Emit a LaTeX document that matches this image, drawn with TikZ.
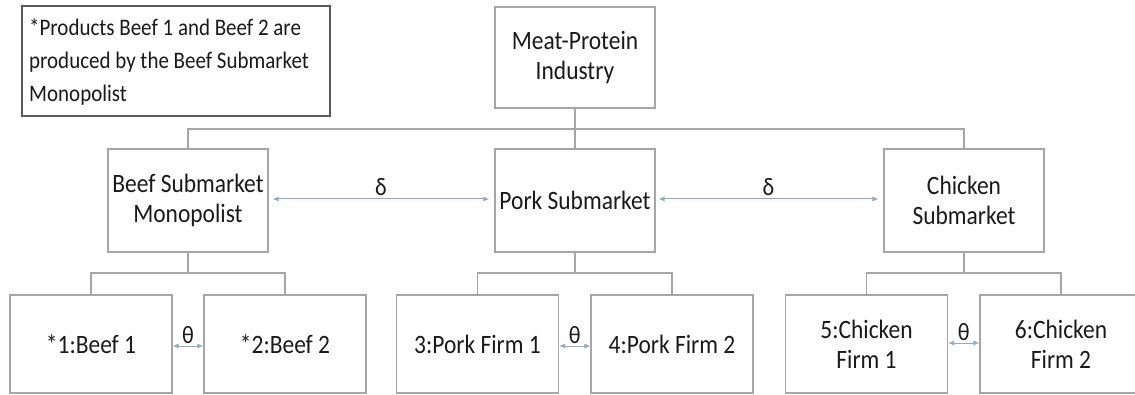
\documentclass[tikz,border=0pt]{standalone}
\usepackage{fontspec}
\setmainfont{Carlito}[FakeStretch=0.885]
\usetikzlibrary{arrows.meta}
\definecolor{boxline}{HTML}{A6A6A6}
\definecolor{noteline}{HTML}{595959}
\definecolor{arrowc}{HTML}{8FA9C8}
\definecolor{txt}{HTML}{1A1A1A}
\tikzset{
  orgbox/.style={draw=boxline, line width=1.1pt, fill=white, minimum width=160pt, minimum height=102pt, align=center, inner sep=0pt, font=\fontsize{26.5}{30}\selectfont, text=txt},
  firmbox/.style={orgbox, minimum width=162pt, minimum height=98pt},
  notebox/.style={draw=noteline, line width=1.6pt, minimum width=308pt, minimum height=110pt, inner sep=0pt},
  notetxt/.style={align=left, inner sep=0pt, font=\fontsize{23.7}{33}\selectfont, text=txt},
  tree/.style={draw=boxline, line width=1.1pt},
  rel/.style={draw=arrowc, line width=1pt, {Latex[length=6pt,width=5pt]}-{Latex[length=6pt,width=5pt]}},
  rellabel/.style={font=\fontsize{25}{28}\selectfont, text=txt, inner sep=0pt}
}
\begin{document}
\begin{tikzpicture}[x=1pt,y=-1pt]
\useasboundingbox[fill=white] (0,0) rectangle (1135,395);
\clip (0,0) rectangle (1135,395);
% note
\node[notebox] (note) at (176,61) {};
\node[notetxt, anchor=north west] (notetext) at (29,18) {*Products Beef 1 and Beef 2 are\\produced by the Beef Submarket\\Monopolist};
% top
\node[orgbox, minimum height=101pt] (meat) at (575,57.5) {Meat-Protein\\Industry};
% submarkets
\node[orgbox, minimum height=103pt] (beef) at (188,200.5) {Beef Submarket\\Monopolist};
\node[orgbox, minimum height=103pt] (pork) at (575,200.5) {Pork Submarket};
\node[orgbox, minimum height=103pt] (chick) at (964,200.5) {Chicken\\Submarket};
% firms
\node[firmbox] (b1) at (91,344) {*1:Beef 1};
\node[firmbox] (b2) at (285,344) {*2:Beef 2};
\node[firmbox] (p1) at (477.5,344) {3:Pork Firm 1};
\node[firmbox] (p2) at (672,344) {4:Pork Firm 2};
\node[firmbox] (c1) at (866.5,344) {5:Chicken\\Firm 1};
\node[firmbox] (c2) at (1061,344) {6:Chicken\\Firm 2};
% tree connectors
\coordinate (bar1) at (575,129);
\draw[tree] (meat.south) -- (bar1);
\draw[tree] (beef.north) |- (bar1) -| (chick.north);
\draw[tree] (bar1) -- (pork.north);
\coordinate (bb) at (188,273);
\draw[tree] (beef.south) -- (bb);
\draw[tree] (b1.north) |- (bb) -| (b2.north);
\coordinate (pb) at (575,273);
\draw[tree] (pork.south) -- (pb);
\draw[tree] (p1.north) |- (pb) -| (p2.north);
\coordinate (cb) at (964,273);
\draw[tree] (chick.south) -- (cb);
\draw[tree] (c1.north) |- (cb) -| (c2.north);
% relations
\draw[rel] ([xshift=4pt,yshift=1.5pt]beef.east) -- node[rellabel, above=3pt] (d1) {δ} ([xshift=-5pt,yshift=1.5pt]pork.west);
\draw[rel] ([xshift=3pt,yshift=1.5pt]pork.east) -- node[rellabel, above=3pt] (d2) {δ} ([xshift=-5pt,yshift=1.5pt]chick.west);
\draw[rel] ([yshift=-2pt]b1.east) -- node[rellabel, above=2pt] (t1) {θ} ([yshift=-2pt]b2.west);
\draw[rel] ([yshift=-2pt]p1.east) -- node[rellabel, above=2pt] (t2) {θ} ([yshift=-2pt]p2.west);
\draw[rel] ([yshift=1pt]c1.east) -- node[rellabel, above=2pt] (t3) {θ} ([yshift=1pt]c2.west);
\end{tikzpicture}
\end{document}
